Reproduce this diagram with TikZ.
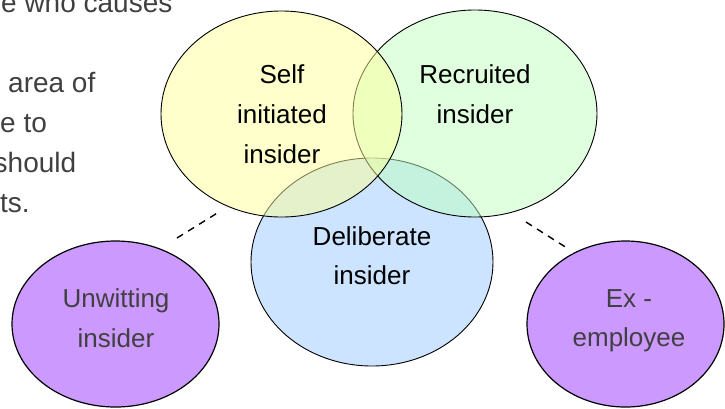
\documentclass[tikz,border=0pt]{standalone}
\usepackage{fontspec}
\setmainfont{Liberation Sans}
\usetikzlibrary{shapes.geometric}
\definecolor{yel}{HTML}{FFFF99}
\definecolor{grn}{HTML}{C0FFC0}
\definecolor{blu}{HTML}{CCE4FF}
\definecolor{pur}{HTML}{CC99FF}
\definecolor{txtgray}{HTML}{404040}
\begin{document}
\begin{tikzpicture}[x=1pt,y=-1pt,
  venn/.style={ellipse, draw=black, line width=0.9pt, inner sep=0pt, outer sep=0pt},
  lbl/.style={font=\fontsize{26}{40}\selectfont, inner sep=0pt, anchor=base},
  side/.style={font=\fontsize{28}{40}\selectfont, text=txtgray, inner sep=0pt, anchor=base west},
  link/.style={draw=black, line width=1.4pt, dash pattern=on 7pt off 6pt}]
\useasboundingbox (0,0) rectangle (725,408);
% side text (clipped at the page edge)
\node[side] (s1) at (1,12) {e who causes};
\node[side] (s2) at (8,92.5) {area of};
\node[side] (s3) at (0,132.5) {e to};
\node[side] (s4) at (-6.5,172) {should};
\node[side] (s5) at (0,212) {ts.};
% venn ellipses
\node[venn, fill=blu, minimum width=242pt, minimum height=208pt] (delib) at (372,262) {};
\node[venn, fill=grn, fill opacity=0.5, minimum width=244pt, minimum height=207pt] (recr) at (475,113.5) {};
\node[venn, fill=yel, fill opacity=0.5, minimum width=241pt, minimum height=206pt] (self) at (281.5,114) {};
\node[venn, fill=pur, line width=1.2pt, minimum width=207pt, minimum height=166pt] (unw) at (115.5,324) {};
\node[venn, fill=pur, line width=1.2pt, minimum width=197pt, minimum height=166pt] (exemp) at (625.5,324) {};
% labels
\node[lbl] (t1a) at (282,83) {Self};
\node[lbl] (t1b) at (282,123) {initiated};
\node[lbl] (t1c) at (282,163) {insider};
\node[lbl] (t2a) at (475,83) {Recruited};
\node[lbl] (t2b) at (475,123) {insider};
\node[lbl] (t3a) at (372,245) {Deliberate};
\node[lbl] (t3b) at (372,284) {insider};
\node[lbl, text=txtgray] (t4a) at (116,307) {Unwitting};
\node[lbl, text=txtgray] (t4b) at (116,347) {insider};
\node[lbl, text=txtgray] (t5a) at (629,307) {Ex -};
\node[lbl, text=txtgray] (t5b) at (629,346) {employee};
% dashed connectors
\coordinate (l1) at (177,238);
\coordinate (l2) at (219,212);
\coordinate (r1) at (526,222);
\coordinate (r2) at (567,248);
\draw[link] (l1) -- (l2);
\draw[link] (r1) -- (r2);
\end{tikzpicture}
\end{document}
